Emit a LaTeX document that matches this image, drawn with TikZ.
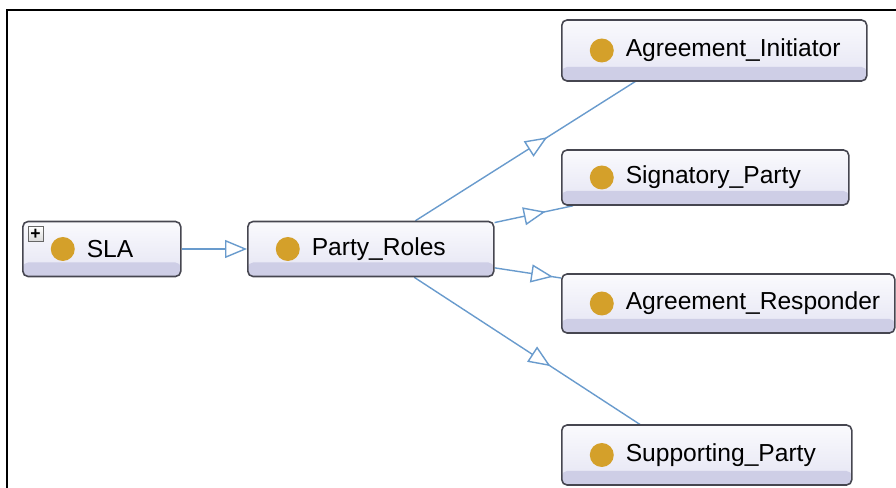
\documentclass[tikz,border=0pt]{standalone}
\usepackage{fontspec}
\setmainfont{Liberation Sans}
\usetikzlibrary{arrows.meta,decorations.markings,backgrounds}

\definecolor{boxline}{RGB}{70,70,80}
\definecolor{boxtop}{RGB}{250,250,253}
\definecolor{boxmid}{RGB}{228,228,243}
\definecolor{boxband}{RGB}{206,206,230}
\definecolor{dotgold}{RGB}{212,160,42}
\definecolor{edgeblue}{RGB}{105,155,205}

\begin{document}
\begin{tikzpicture}[
          classbox/.style={rectangle, rounded corners=3pt, draw=boxline, line width=0.9pt,
            top color=boxtop, bottom color=boxmid, minimum height=1.1cm,
            text width=#1, align=left, inner xsep=0.2cm, anchor=west,
            font=\fontsize{14}{17}\selectfont,
            execute at begin node=\hspace*{1.08cm},
            path picture={
              \fill[boxband] (path picture bounding box.south west)
                rectangle ([yshift=0.28cm]path picture bounding box.south east);
              \fill[dotgold] ([xshift=0.8cm]path picture bounding box.west) circle (0.24cm);}},
          plusbox/.style={rectangle, draw=gray!80!black, line width=0.5pt,
            top color=white, bottom color=gray!30, minimum size=0.3cm, inner sep=0pt,
            font=\bfseries\fontsize{10}{10}\selectfont},
          isa/.style={draw=edgeblue, line width=0.8pt},
          midarrow/.style={postaction={decorate}, decoration={markings,
            mark=at position #1 with {\arrow{Triangle[fill=white, length=0.44cm, width=0.36cm]}}}}]

        \useasboundingbox (0,0) rectangle (17.92,9.76);
        \draw[line width=1.1pt] (0.14,0) |- (17.92,9.56);

        \node[classbox=2.76cm] (sla)  at (0.44,4.78) {SLA};
        \node[plusbox] (slaplus) at ([xshift=0.27cm,yshift=-0.27cm]sla.north west) {+};
        \node[classbox=4.52cm] (roles) at (4.94,4.78) {Party\_Roles};

        \node[classbox=5.70cm, minimum height=1.22cm] (init) at (11.22,8.75) {Agreement\_Initiator};
        \node[classbox=5.34cm]                        (sign) at (11.22,6.21) {Signatory\_Party};
        \node[classbox=6.26cm, minimum height=1.18cm] (resp) at (11.22,3.69) {Agreement\_Responder};
        \node[classbox=5.40cm, minimum height=1.2cm]  (supp) at (11.22,0.66) {Supporting\_Party};

        % edges go behind the boxes
        \begin{pgfonlayer}{background}
        \draw[isa, -{Triangle[fill=white, length=0.44cm, width=0.36cm]}] (sla) -- (roles);
        \draw[isa, midarrow=0.49] (roles) -- ([xshift=-0.6cm]init.center);
        \draw[isa, midarrow=0.65] (roles) -- (sign);
        \draw[isa, midarrow=0.88] (roles) -- (resp);
        \draw[isa, midarrow=0.5] (roles) -- ([xshift=-0.4cm]supp.center);
        \end{pgfonlayer}

      \end{tikzpicture}
\end{document}
